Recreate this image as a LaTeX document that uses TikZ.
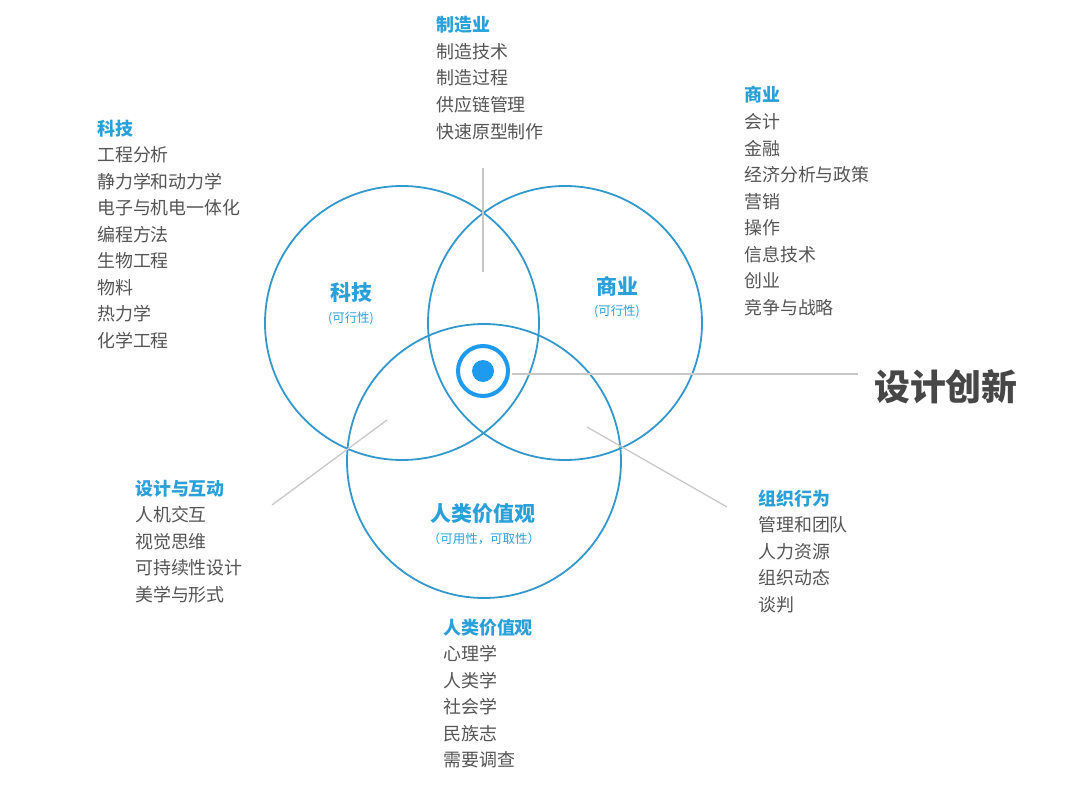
\documentclass[tikz,border=0pt]{standalone}
\usepackage{fontspec}
\newfontfamily\cjk{Noto Sans CJK SC}
\definecolor{ring}{HTML}{3399CC}
\definecolor{head}{HTML}{2AA0D8}
\definecolor{body}{HTML}{555555}
\definecolor{title}{HTML}{474747}
\definecolor{dot}{HTML}{1E9BEF}
\definecolor{guide}{HTML}{C8C8C8}
\tikzset{
  venn/.style={draw=ring,line width=1.8bp},
  guideline/.style={draw=guide,line width=1.3bp},
  hd/.style={anchor=base west,inner sep=0pt,text=head,font=\cjk\fontsize{18}{18}\selectfont\bfseries},
  item/.style={anchor=base west,inner sep=0pt,text=body,font=\cjk\fontsize{18}{18}\selectfont},
  clabel/.style={anchor=base,inner sep=0pt,text=head,font=\cjk\fontsize{21}{21}\selectfont\bfseries},
  csub/.style={anchor=base,inner sep=0pt,text=head,font=\cjk\fontsize{12.5}{12.5}\selectfont},
}
\begin{document}
\begin{tikzpicture}[x=1bp,y=-1bp]
\useasboundingbox[fill=white] (0,0) rectangle (1080,786);
% circles
\draw[venn] (402,323) circle[radius=137];
\draw[venn] (565,323) circle[radius=137];
\draw[venn] (484,461) circle[radius=137];
% target
\node[circle,draw=dot,line width=4bp,minimum size=50bp,inner sep=0pt] (target) at (483,371) {};
\node[circle,fill=dot,minimum size=22bp,inner sep=0pt] (core) at (483,371) {};
% guide lines
\coordinate (vt) at (483,168); \coordinate (vb) at (483,272);
\coordinate (hs) at (512,374); \coordinate (he) at (858,374);
\coordinate (ls) at (387,420); \coordinate (le) at (272,505);
\coordinate (rs) at (587,427); \coordinate (re) at (727,507);
\draw[guideline] (vt) -- (vb);
\draw[guideline] (hs) -- (he);
\draw[guideline] (ls) -- (le);
\draw[guideline] (rs) -- (re);
% circle labels
\node[clabel] (lt) at (351,300) {科技};
\node[csub] (lts) at (351,322) {(可行性)};
\node[clabel] (lb) at (617,294) {商业};
\node[csub] (lbs) at (617,315) {(可行性)};
\node[clabel] (lh) at (483,521) {人类价值观};
\node[csub] (lhs) at (484,543) {（可用性，可取性）};
% title
\node[anchor=west,inner sep=0pt,text=title,font=\cjk\fontsize{36}{36}\selectfont\bfseries] (title) at (874,387) {设计创新};
% lists
\node[hd] (mh) at (436,32) {制造业};
\foreach \t [count=\i] in {制造技术,制造过程,供应链管理,快速原型制作}
  \node[item] (m\i) at (436,32+26.5*\i) {\t};
\node[hd] (th) at (97,135) {科技};
\foreach \t [count=\i] in {工程分析,静力学和动力学,电子与机电一体化,编程方法,生物工程,物料,热力学,化学工程}
  \node[item] (t\i) at (97,135+26.5*\i) {\t};
\node[hd] (bh) at (744,102) {商业};
\foreach \t [count=\i] in {会计,金融,经济分析与政策,营销,操作,信息技术,创业,竞争与战略}
  \node[item] (b\i) at (744,102+26.5*\i) {\t};
\node[hd] (dh) at (135,495) {设计与互动};
\foreach \t [count=\i] in {人机交互,视觉思维,可持续性设计,美学与形式}
  \node[item] (d\i) at (135,495+26.5*\i) {\t};
\node[hd] (oh) at (758,505) {组织行为};
\foreach \t [count=\i] in {管理和团队,人力资源,组织动态,谈判}
  \node[item] (o\i) at (758,505+26.5*\i) {\t};
\node[hd] (hh) at (443,634) {人类价值观};
\foreach \t [count=\i] in {心理学,人类学,社会学,民族志,需要调查}
  \node[item] (h\i) at (443,634+26.5*\i) {\t};
\end{tikzpicture}
\end{document}
